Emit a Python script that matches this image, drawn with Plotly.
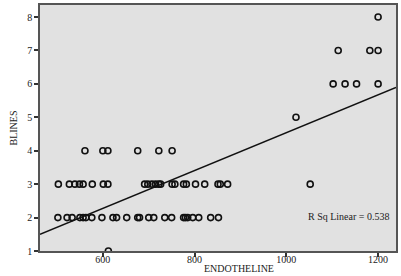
import plotly.graph_objects as go

# ENDOTHELINE values grouped by BLINES level
x_b1 = [612]
x_b2 = [502, 522, 533, 550, 557, 563, 576, 598, 622, 630, 652, 676, 680, 700,
        711, 735, 750, 776, 780, 785, 796, 809, 835, 852]
x_b3 = [503, 527, 539, 549, 557, 577, 601, 611, 691, 698, 707, 715, 722, 726,
        751, 757, 776, 782, 802, 822, 851, 856, 872, 1052]
x_b4 = [561, 600, 611, 676, 722, 751]
x_b5 = [1021]
x_b6 = [1102, 1128, 1153, 1200]
x_b7 = [1113, 1182, 1200]
x_b8 = [1200]

groups = [(1, x_b1), (2, x_b2), (3, x_b3), (4, x_b4), (5, x_b5), (6, x_b6), (7, x_b7), (8, x_b8)]
endo = [x for lvl, xs in groups for x in xs]
blines = [lvl for lvl, xs in groups for x in xs]

# Linear fit line (SPSS), endpoints
fit_x = [463, 1239]
fit_y = [1.50, 5.89]

x_tick_vals = [600, 800, 1000, 1200]
y_tick_vals = [1, 2, 3, 4, 5, 6, 7, 8]
r2_label = "R Sq Linear = 0.538"
x_title = "ENDOTHELINE"
y_title = "BLINES"

x_range = [463, 1239]
y_range = [1, 8.36]

font = "Liberation Serif, Times New Roman, serif"

fig = go.Figure()
fig.add_trace(go.Scatter(
    x=endo, y=blines, mode="markers",
    marker=dict(symbol="circle-open", size=6, color="#111111", line=dict(width=1.6)),
    showlegend=False, cliponaxis=True, hoverinfo="skip",
))
fig.add_trace(go.Scatter(
    x=fit_x, y=fit_y, mode="lines",
    line=dict(color="#111111", width=1.5), showlegend=False, hoverinfo="skip",
))

fig.add_annotation(
    text=r2_label, xref="paper", yref="paper", x=0.985, y=0.14,
    xanchor="right", yanchor="middle", showarrow=False,
    font=dict(family=font, size=10, color="#222222"),
)
fig.add_annotation(
    text=x_title, xref="paper", yref="paper", x=0.56, y=-0.072,
    xanchor="center", yanchor="middle", showarrow=False,
    font=dict(family=font, size=10, color="#222222"),
)

fig.update_layout(
    width=401, height=276,
    margin=dict(l=40, r=4, t=3, b=25),
    paper_bgcolor="white", plot_bgcolor="#e1e1e1",
    font=dict(family=font, size=10, color="#222222"),
)
fig.update_xaxes(
    range=x_range, tickvals=x_tick_vals, showgrid=False, zeroline=False,
    ticks="outside", ticklen=4, tickwidth=1.5, tickcolor="#333333",
    showline=True, linecolor="#555555", linewidth=1.5, mirror=True,
    tickfont=dict(size=10), ticklabelstandoff=-6,
)
fig.update_yaxes(
    range=y_range, tickvals=y_tick_vals, showgrid=False, zeroline=False,
    ticks="outside", ticklen=4, tickwidth=1.5, tickcolor="#333333",
    showline=True, linecolor="#555555", linewidth=1.5, mirror=True,
    title=dict(text=y_title, standoff=8, font=dict(size=10)),
    tickfont=dict(size=10),
)

fig.write_html("out.html", post_script="document.body.style.margin='0';",
               config={"displayModeBar": False})
